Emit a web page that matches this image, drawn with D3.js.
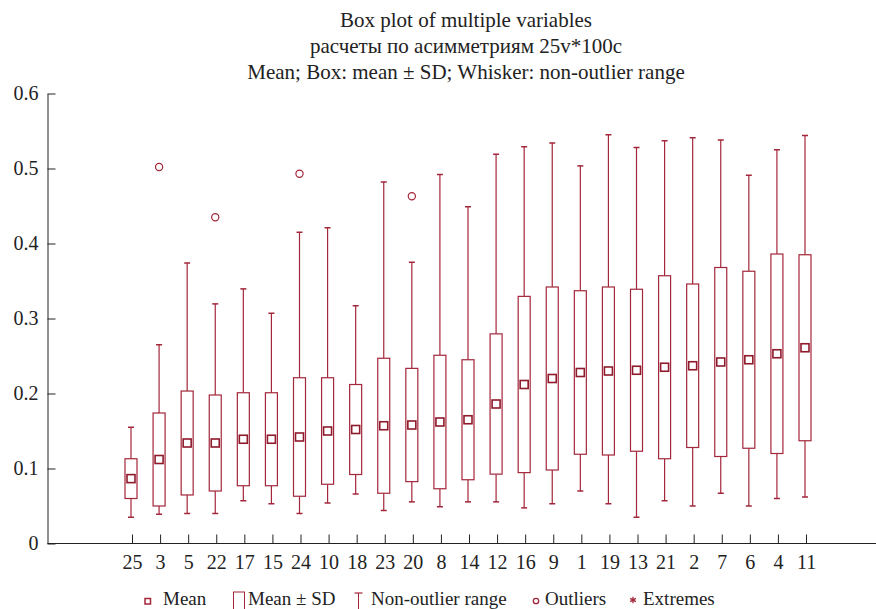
<html>
<head>
<meta charset="utf-8">
<script src="https://d3js.org/d3.v7.min.js"></script>
<style>
  body { margin: 0; background: white; }
</style>
</head>
<body>
<div id="div1"></div>

<script>

// svg size
var svg_width = 876
var svg_height = 609
var serif = "Liberation Serif"

// chart data
var categories = ["25", "3", "5", "22", "17", "15", "24", "10", "18", "23", "20", "8", "14",
  "12", "16", "9", "1", "19", "13", "21", "2", "7", "6", "4", "11"]
var means = [0.0865, 0.112, 0.134, 0.134, 0.139, 0.139, 0.142, 0.150, 0.152, 0.157, 0.158, 0.162, 0.165,
  0.186, 0.212, 0.220, 0.228, 0.230, 0.231, 0.235, 0.237, 0.242, 0.245, 0.253, 0.261]
var sds = [0.0265, 0.062, 0.0693, 0.064, 0.062, 0.062, 0.079, 0.071, 0.060, 0.090, 0.0755, 0.089, 0.080,
  0.0935, 0.1175, 0.122, 0.109, 0.112, 0.108, 0.122, 0.109, 0.126, 0.118, 0.133, 0.124]
var whisker_low = [0.035, 0.039, 0.040, 0.040, 0.057, 0.053, 0.040, 0.054, 0.066, 0.044, 0.0555, 0.049, 0.0555,
  0.0555, 0.0475, 0.053, 0.070, 0.053, 0.035, 0.057, 0.050, 0.067, 0.050, 0.060, 0.062]
var whisker_high = [0.155, 0.265, 0.374, 0.3195, 0.3395, 0.307, 0.415, 0.421, 0.317, 0.482, 0.375, 0.492, 0.449,
  0.519, 0.529, 0.534, 0.5035, 0.545, 0.528, 0.537, 0.541, 0.538, 0.491, 0.525, 0.544]
var outlier_cats = ["3", "22", "24", "20"]
var outlier_values = [0.502, 0.435, 0.493, 0.463]
var y_ticks = [0, 0.1, 0.2, 0.3, 0.4, 0.5, 0.6]

var title_lines = ["Box plot of multiple variables",
  "расчеты по асимметриям 25v*100c",
  "Mean; Box: mean \u00B1 SD; Whisker: non-outlier range"]

var red = "#a3263a"

var svg = d3.select("#div1").append("svg")
.attr("width", svg_width)
.attr("height", svg_height)
.attr("font-family", serif)

// scales
var x = d3.scalePoint()
.domain(categories)
.range([132, 806])

var y = d3.scaleLinear()
.domain([0, 0.6])
.range([543.5, 93.5])

var axis_left = 47.5

// titles
svg.selectAll(".title")
.data(title_lines)
.enter().append("text")
.attr("class", "title")
.attr("x", 466)
.attr("y", function(d, i) { return 27 + i * 26 })
.attr("text-anchor", "middle")
.attr("font-family", serif)
.attr("font-size", 21)
.attr("fill", "#222")
.text(function(d) { return d })

// y axis, ticks point into the plot
var y_axis = svg.append("g")
.attr("transform", "translate(" + axis_left + ",0)")
.call(d3.axisLeft(y).tickValues(y_ticks).tickSizeInner(-8).tickSizeOuter(0).tickPadding(9)
  .tickFormat(function(d) { return d == 0 ? "0" : d3.format(".1f")(d) }))

y_axis.attr("font-family", serif).attr("font-size", 20)
y_axis.selectAll("text").attr("fill", "#222")
y_axis.selectAll("line, path").attr("stroke", "#222")

// x axis, line runs to the right edge
var x_axis = svg.append("g")
.attr("transform", "translate(0," + y(0) + ")")
.call(d3.axisBottom(x).tickSizeInner(-9).tickSizeOuter(0).tickPadding(11))

x_axis.attr("font-family", serif).attr("font-size", 20)
x_axis.select(".domain").remove()
x_axis.selectAll("text").attr("fill", "#222")
x_axis.selectAll("line").attr("stroke", "#222")

svg.append("line")
.attr("x1", axis_left)
.attr("x2", svg_width)
.attr("y1", y(0))
.attr("y2", y(0))
.style("stroke", "#222")
.style("stroke-width", 1)

// one group per variable
var box_w = 12
var cap_w = 6
var mark = 8

var boxes = svg.selectAll(".box")
.data(categories)
.enter().append("g")
.attr("class", "box")
.attr("transform", function(d) { return "translate(" + (x(d) - 1) + ",0)" })

boxes.append("line")
.attr("x1", 0).attr("x2", 0)
.attr("y1", function(d, i) { return y(means[i] + sds[i]) })
.attr("y2", function(d, i) { return y(whisker_high[i]) })
.style("stroke", red).style("stroke-width", 1.2)

boxes.append("line")
.attr("x1", 0).attr("x2", 0)
.attr("y1", function(d, i) { return y(means[i] - sds[i]) })
.attr("y2", function(d, i) { return y(whisker_low[i]) })
.style("stroke", red).style("stroke-width", 1.2)

boxes.append("line")
.attr("x1", -cap_w / 2).attr("x2", cap_w / 2)
.attr("y1", function(d, i) { return y(whisker_high[i]) })
.attr("y2", function(d, i) { return y(whisker_high[i]) })
.style("stroke", red).style("stroke-width", 1.5)

boxes.append("line")
.attr("x1", -cap_w / 2).attr("x2", cap_w / 2)
.attr("y1", function(d, i) { return y(whisker_low[i]) })
.attr("y2", function(d, i) { return y(whisker_low[i]) })
.style("stroke", red).style("stroke-width", 1.5)

boxes.append("rect")
.attr("x", -box_w / 2)
.attr("width", box_w)
.attr("y", function(d, i) { return y(means[i] + sds[i]) })
.attr("height", function(d, i) { return y(means[i] - sds[i]) - y(means[i] + sds[i]) })
.style("fill", "white")
.style("stroke", red)
.style("stroke-width", 1.2)

boxes.append("rect")
.attr("x", -mark / 2)
.attr("width", mark)
.attr("y", function(d, i) { return y(means[i]) - mark / 2 })
.attr("height", mark)
.style("fill", "white")
.style("stroke", "#8e1a2c")
.style("stroke-width", 1.6)

// outliers
svg.selectAll(".outlier")
.data(outlier_cats)
.enter().append("circle")
.attr("class", "outlier")
.attr("cx", function(d) { return x(d) - 1 })
.attr("cy", function(d, i) { return y(outlier_values[i]) })
.attr("r", 3.6)
.style("fill", "none")
.style("stroke", red)
.style("stroke-width", 1.2)

// legend along the bottom
var legend = svg.append("g")
var ly = 605

legend.append("rect")
.attr("x", 145).attr("y", ly - 6.5).attr("width", 5.5).attr("height", 5.5)
.style("fill", "white").style("stroke", red).style("stroke-width", 1.5)

legend.append("rect")
.attr("x", 233.5).attr("y", ly - 13).attr("width", 11).attr("height", 20)
.style("fill", "white").style("stroke", red).style("stroke-width", 1)

legend.append("line")
.attr("x1", 358.5).attr("x2", 358.5).attr("y1", ly - 12).attr("y2", ly + 5)
.style("stroke", red).style("stroke-width", 1)
legend.append("line")
.attr("x1", 354.5).attr("x2", 362.5).attr("y1", ly - 12).attr("y2", ly - 12)
.style("stroke", red).style("stroke-width", 1.2)

legend.append("circle")
.attr("cx", 536).attr("cy", ly - 4).attr("r", 2.7)
.style("fill", "none").style("stroke", red).style("stroke-width", 1.3)

legend.append("path")
.attr("transform", "translate(633," + (ly - 5) + ")")
.attr("d", d3.symbol().type(d3.symbolAsterisk).size(30)())
.style("fill", "none").style("stroke", red).style("stroke-width", 1.3)

var legend_labels = ["Mean", "Mean \u00B1 SD", "Non-outlier range", "Outliers", "Extremes"]
var legend_x = [163, 248, 371, 545, 643]

legend.selectAll(".ltext")
.data(legend_labels)
.enter().append("text")
.attr("class", "ltext")
.attr("x", function(d, i) { return legend_x[i] })
.attr("y", ly)
.attr("font-family", serif)
.attr("font-size", 19)
.attr("fill", "#222")
.text(function(d) { return d })

</script>
</body>
</html>
